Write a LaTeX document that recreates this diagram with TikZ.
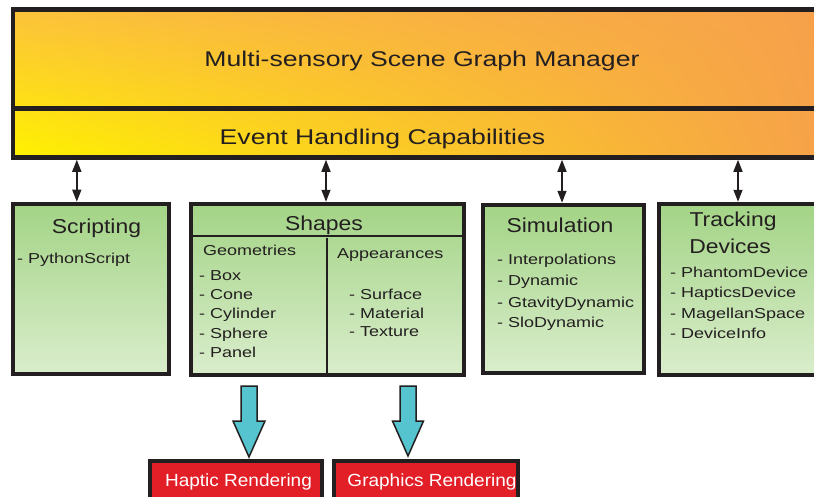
\documentclass[tikz,border=0pt]{standalone}
\usepackage{fontspec}
\setmainfont{Liberation Sans}[FakeStretch=1.25]
\newfontfamily\titlefont{Liberation Sans}[FakeStretch=1.14]
\newfontfamily\rendfont{Liberation Sans}[FakeStretch=1.08]
\usetikzlibrary{arrows.meta,shadings}
\definecolor{inkgray}{HTML}{231F20}
\definecolor{bandyellow}{HTML}{FFF200}
\definecolor{bandamber}{HTML}{FCC23B}
\definecolor{bandorange}{HTML}{F6A04B}
\definecolor{boxgreen}{HTML}{A3D486}
\definecolor{boxpale}{HTML}{DAEDCC}
\definecolor{rendred}{HTML}{E21E26}
\definecolor{flowcyan}{HTML}{55C4CF}
\tikzset{
  >={Triangle[length=12pt,width=9pt]},
  frame/.style={draw=inkgray,line width=4.5pt,inner sep=0pt},
  modbox/.style={draw=inkgray,line width=4pt,top color=boxgreen,
    bottom color=boxpale,inner sep=0pt},
  rendbox/.style={draw=inkgray,line width=4pt,fill=rendred,inner sep=0pt},
  divline/.style={draw=inkgray,line width=2.4pt},
  link/.style={<->,draw=inkgray,fill=inkgray,line width=1.5pt},
  bigarrow/.style={draw=inkgray,fill=flowcyan,line width=1.5pt,line join=miter},
  bandlbl/.style={font=\fontsize{21.3}{25}\selectfont,text=inkgray,
    anchor=base,inner sep=0pt},
  hdr/.style={font=\titlefont\fontsize{20.1}{24}\selectfont,text=inkgray,
    anchor=base,inner sep=0pt},
  itm/.style={font=\fontsize{14.4}{17}\selectfont,text=inkgray,
    anchor=base west,inner sep=0pt},
  rendlbl/.style={font=\rendfont\fontsize{17.6}{20}\selectfont,text=white,
    anchor=base,inner sep=0pt},
}

\begin{document}
\begin{tikzpicture}[x=1pt,y=-1pt]
  \useasboundingbox (0,0) rectangle (814,496);
  % scene graph manager band
  \shade[upper left=bandamber,lower left=bandyellow,upper right=bandorange,
    lower right=bandorange] (13,9.5) rectangle (840,157.5);
  \node[frame,minimum width=827pt,minimum height=98.9pt] (mgr) at (426.5,58.95) {};
  \node[frame,minimum width=827pt,minimum height=49.1pt] (evt) at (426.5,132.95) {};
  \node[bandlbl] (mgrtxt) at (422,66.7) {Multi-sensory Scene Graph Manager};
  \node[bandlbl] (evttxt) at (382.5,144) {Event Handling Capabilities};

  % modules
  \node[modbox,minimum width=156pt,minimum height=170.4pt] (script) at (90.75,288.9) {};
  \node[modbox,minimum width=272.7pt,minimum height=171pt] (shapes) at (327.3,289.25) {};
  \node[modbox,minimum width=161.3pt,minimum height=168.3pt] (sim) at (563.4,288.9) {};
  \node[modbox,minimum width=181pt,minimum height=171pt] (track) at (749.5,289.25) {};
  \draw[divline] ([yshift=-34.2pt]shapes.north west) -- ([yshift=-34.2pt]shapes.north east);
  \coordinate (split) at (327,237.7);
  \draw[divline] (split) -- (split |- shapes.south);

  \node[hdr] (scripthdr) at (96.5,233.3) {Scripting};
  \node[itm] (py) at (17,263.3) {- PythonScript};

  \node[hdr] (shapeshdr) at (324,230) {Shapes};
  \node[itm] (geohdr) at (203,255) {Geometries};
  \foreach \t/\y [count=\i] in {Box/280,Cone/299,Cylinder/318,Sphere/338,Panel/357}
    \node[itm] (geo\i) at (199,\y) {- \t};
  \node[itm] (apphdr) at (337,258) {Appearances};
  \foreach \t/\y [count=\i] in {Surface/299,Material/318,Texture/336}
    \node[itm] (app\i) at (349,\y) {- \t};

  \node[hdr] (simhdr) at (560,232.5) {Simulation};
  \foreach \t/\y [count=\i] in {Interpolations/264,Dynamic/285,GtavityDynamic/307,SloDynamic/327}
    \node[itm] (sim\i) at (497,\y) {- \t};

  \node[hdr] (trackhdr) at (733,226) {Tracking};
  \node[hdr] (trackhdrb) at (730,253) {Devices};
  \foreach \t/\y [count=\i] in {PhantomDevice/277,HapticsDevice/297,MagellanSpace/318,DeviceInfo/338}
    \node[itm] (dev\i) at (670,\y) {- \t};

  % links to the manager
  \coordinate (p1) at (76.8,0);
  \coordinate (p2) at (326,0);
  \coordinate (p3) at (562,0);
  \coordinate (p4) at (738,0);
  \draw[link] (evt.south -| p1) -- (script.north -| p1);
  \draw[link] (evt.south -| p2) -- (shapes.north -| p2);
  \draw[link] (evt.south -| p3) -- (sim.north -| p3);
  \draw[link] (evt.south -| p4) -- (track.north -| p4);

  % renderers
  \node[rendbox,minimum width=172.5pt,minimum height=58.7pt] (haptic) at (235.75,490.65) {};
  \node[rendbox,minimum width=184.3pt,minimum height=58.7pt] (graphics) at (425.85,490.65) {};
  \node[rendlbl] (haptictxt) at (238.5,486) {Haptic Rendering};
  \node[rendlbl] (graphicstxt) at (432,486.5) {Graphics Rendering};

  \draw[bigarrow] (241,386) -- (257,386) -- (257,421) -- (265,421) -- (249,457)
    -- (233,421) -- (241,421) -- cycle;
  \draw[bigarrow] (400,386) -- (416,386) -- (416,421) -- (423.5,421) -- (408,456)
    -- (392.5,421) -- (400,421) -- cycle;
\end{tikzpicture}
\end{document}
